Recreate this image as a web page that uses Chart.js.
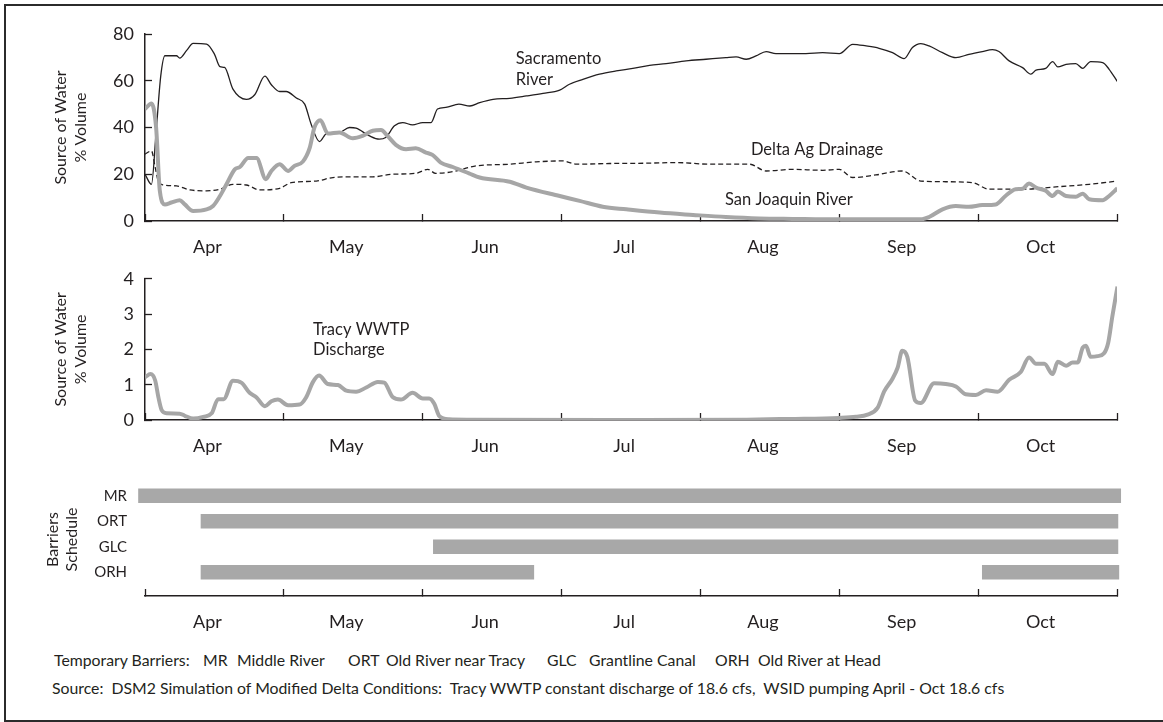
<!DOCTYPE html>
<html>
<head>
<meta charset="utf-8">
<script src="https://cdn.jsdelivr.net/npm/chart.js@4"></script>
<style>
  body{margin:0;background:#fff;font-family:Lato,"Open Sans",sans-serif;color:#231f20}
  #page{position:relative;width:1163px;height:722px;overflow:hidden}
  #frame{position:absolute;left:4px;top:4px;width:1170px;height:714px;border:2px solid #2b2b2b}
  canvas{position:absolute;left:0}
  .note{position:absolute;font-size:15.8px;white-space:nowrap;line-height:18px}
</style>
</head>
<body>
<div id="page">
  <div id="frame"></div>
  <canvas id="sources" width="1163" height="262" style="top:0"></canvas>
  <canvas id="wwtp" width="1163" height="210" style="top:250px"></canvas>
  <canvas id="barriers" width="1163" height="184" style="top:456px"></canvas>
  <div class="note" style="left:54px;top:651px">Temporary Barriers:</div>
  <div class="note" style="left:203px;top:651px">MR</div>
  <div class="note" style="left:237px;top:651px">Middle River</div>
  <div class="note" style="left:348px;top:651px">ORT</div>
  <div class="note" style="left:386px;top:651px">Old River near Tracy</div>
  <div class="note" style="left:547px;top:651px">GLC</div>
  <div class="note" style="left:589px;top:651px">Grantline Canal</div>
  <div class="note" style="left:715px;top:651px">ORH</div>
  <div class="note" style="left:758px;top:651px">Old River at Head</div>
  <div class="note" style="left:52px;top:679px">Source:&nbsp; DSM2 Simulation of Modified Delta Conditions:&nbsp; Tracy WWTP constant discharge of 18.6 cfs,&nbsp; WSID pumping April - Oct 18.6 cfs</div>
</div>
<script>
// x values are days from the start of the run, 30 days per axis division
var monthLabels = ['Apr','May','Jun','Jul','Aug','Sep','Oct']

var sacramentoRiver = [[0,20],[1.4,15.7],[2.4,38],[3.4,62],[4.3,70.7],[6.8,70.7],[7.5,69.7],[9,73],[10.4,76],[13.3,75.7],
  [15,71.4],[16.2,66],[17.2,65.7],[19,56.4],[21.9,52],[23.7,54],[25.9,62],[27.3,58.3],[29.1,55.4],[30.5,55.4],
  [32.7,52.6],[34.5,50],[35.9,41.4],[37.7,34],[39.2,37.4],[42,37.9],[44.2,40],[45.6,39.7],[48.5,36.4],[50.6,35],
  [52,35.7],[53.9,40.7],[55.7,42.1],[57.8,41.1],[60,42.1],[61.8,42.1],[63.2,47.9],[65,48.6],[67.8,50],[70.2,49.2],
  [72.3,50.6],[75.2,52],[78.8,52.5],[82.4,53.5],[86,54.6],[89.6,56],[91.7,58.5],[94.6,60.6],[98.2,62.8],[101.8,64.2],
  [105.4,65.3],[109,66.6],[112.6,67.3],[116.9,68.5],[121.2,69.2],[125.5,69.9],[127.7,70.2],[129.9,69.2],[132,70.6],[134.2,72.5],
  [136.3,71.6],[139.9,71.6],[142.8,71.6],[146.4,72],[150,71.6],[152.9,75.6],[155.8,74.9],[158.6,73.9],[161.5,72],[164,69.5],
  [165.8,74.2],[167.6,75.9],[169.4,74.9],[172.3,72],[175.2,69.9],[178,71.3],[180.9,72.5],[183.1,73.3],[184.5,72.5],[186.7,68.5],
  [189.6,65.6],[191.4,62.8],[192.5,64.5],[194.6,65.3],[196.1,68.2],[197.2,65.9],[199,67],[201.1,67.3],[202.6,65.3],[204.3,68.2],
  [206.9,67.8],[208.3,64.9],[210.1,59.6]]

var sanJoaquinRiver = [[0,47.9],[1.4,50.3],[2.4,40],[3.2,12.9],[4.3,7.1],[5.7,7.9],[7.5,8.9],[8.6,7.1],[10.4,4.3],[13.3,5],
  [14.7,6.4],[16.2,10.7],[17.6,15.7],[19.4,22.1],[20.5,23.1],[22.3,26.9],[24.1,26.9],[26.1,17.9],[27.3,21.4],[29.1,24.3],
  [30.9,21.4],[32.3,23.6],[34.1,25.4],[35.6,31.4],[36.6,40],[37.9,43.1],[39.5,37.4],[42,37.9],[44.9,35.4],[47,36.4],
  [49.2,38.6],[51,38.9],[52.4,36.4],[54.2,32.6],[56.4,30.7],[58.5,31.1],[60.7,29.3],[62.1,28.3],[63.9,25],[66.5,23.1],
  [70,20.4],[72.3,18.6],[78.8,16.8],[82.4,14.3],[89.6,10.7],[93.9,8.6],[98.9,6.1],[104,5],[111.2,3.6],[118.4,2.6],
  [125.5,1.7],[132.7,1.1],[139.9,0.9],[150,0.7],[160,0.7],[167.9,0.8],[169.4,1.7],[172.3,5],[175.2,6.4],[178,6.1],
  [180.9,6.8],[183.8,7.1],[185.9,10.7],[188.1,13.6],[189.6,13.8],[191,16],[192.5,14.3],[194.6,12.9],[196.1,10.7],[197.2,12.6],
  [199,10.7],[201.1,10.4],[202.6,11.7],[204,9.3],[206.9,8.9],[208.3,10.7],[210.1,14]]

var deltaAgDrainage = [[0,28.6],[1.4,30],[2.2,22.9],[2.9,16.9],[4,15.4],[6.8,15],[9.7,13.3],[13.3,12.9],[16.2,13.6],[19,15.7],
  [21.9,15.4],[24.8,13.3],[29.1,14],[31.6,16.4],[37,17.1],[40.6,18.6],[44.9,18.9],[49.2,18.9],[53.5,20],[58.5,20.4],
  [61.1,22.1],[62.8,20.4],[66.5,21.1],[70,22.9],[71.6,23.6],[78.8,24.3],[84.5,25.3],[90.3,25.7],[93.2,24.3],[100.4,24.6],
  [107.6,24.7],[114.8,25],[122,24.3],[130.6,24.3],[134.2,21.4],[139.9,22.1],[146.4,21.7],[150,22.1],[152.9,18.6],[157.9,19.7],
  [163.6,21.4],[167.6,17.1],[173,16.8],[178.8,16.4],[182.4,13.6],[189.6,13.6],[196.8,14.6],[204,15.7],[210.1,17.1]]

var tracyWwtp = [[0,1.21],[1.2,1.3],[2.2,1.12],[2.9,0.64],[3.6,0.28],[4.7,0.19],[7.5,0.18],[8.6,0.12],[10.4,0.04],[12.6,0.09],
  [14.4,0.19],[15.8,0.59],[17,0.59],[19,1.11],[20.8,1.06],[22.6,0.77],[24.1,0.64],[25.9,0.39],[27.3,0.53],[28.7,0.58],
  [30.9,0.42],[33.4,0.44],[34.8,0.64],[36.3,1.08],[37.6,1.26],[39.5,1.02],[41.7,0.99],[43.5,0.83],[45.6,0.8],[47.8,0.92],
  [50.3,1.08],[51.7,1.06],[53.5,0.65],[55.3,0.58],[57.8,0.77],[60,0.61],[61.4,0.61],[62.5,0.46],[63.6,0.11],[65.7,0.02],
  [70,0.01],[100,0],[130,0.01],[139.2,0.03],[150,0.06],[153.6,0.09],[156.1,0.15],[158.3,0.35],[159.7,0.81],[161.5,1.17],
  [162.6,1.48],[163.6,1.96],[164.7,1.79],[166.4,0.55],[167.6,0.48],[170.5,1.04],[173,1.02],[175.2,0.95],[177.3,0.73],[179.5,0.71],
  [181.7,0.84],[184.2,0.8],[186.7,1.14],[189.2,1.36],[191,1.77],[192.5,1.59],[194.3,1.59],[196.1,1.3],[197.2,1.65],[199,1.54],
  [200.4,1.63],[201.5,1.63],[202.6,2.05],[203.3,2.1],[204.3,1.79],[205.8,1.81],[207.2,1.89],[208.1,2.19],[209,2.94],[210.1,3.78]]

var barrierNames = ['MR','ORT','GLC','ORH']
// [barrier index, first day, last day]
var barrierPeriods = [[0,-1.4,210.8],[1,12.1,210.2],[2,62.3,210.2],[3,12.1,84],[3,180.9,210.4]]

var ink = '#231f20'
var fontFamily = 'Lato, "Open Sans", sans-serif'

var toPoints = function(list){
  return list.map(function(p){ return {x: p[0], y: p[1]} })
}

var monthTicks = function(scale){
  var ticks = []
  for(var i = 0; i <= monthLabels.length; i++){
    ticks.push({value: i * 30})
    if(i < monthLabels.length) ticks.push({value: i * 30 + 13.5})
  }
  scale.ticks = ticks
}

var monthAxis = function(){
  return {
    type: 'linear',
    min: 0,
    max: 210,
    afterBuildTicks: monthTicks,
    grid: {
      drawOnChartArea: false,
      tickLength: -7,
      tickWidth: 1.3,
      tickColor: function(ctx){
        return ctx.tick && ctx.tick.value % 30 === 0 ? ink : 'rgba(0,0,0,0)'
      }
    },
    border: {color: ink, width: 1.5},
    ticks: {
      autoSkip: false,
      maxRotation: 0,
      padding: 22,
      color: ink,
      font: {family: fontFamily, size: 18},
      callback: function(value){
        return value % 30 === 0 ? '' : monthLabels[Math.floor(value / 30)]
      }
    }
  }
}

var valueAxis = function(max,step){
  return {
    min: 0,
    max: max,
    afterFit: function(scale){ scale.width = 145 },
    grid: {drawOnChartArea: false, tickLength: -7, tickWidth: 1.3, tickColor: ink},
    border: {color: ink, width: 1.5},
    ticks: {stepSize: step, padding: 18, color: ink, font: {family: fontFamily, size: 18}},
    title: {
      display: true,
      text: ['Source of Water','% Volume'],
      color: ink,
      font: {family: fontFamily, size: 16, lineHeight: 1.3},
      padding: {top: 50, bottom: 0}
    }
  }
}

// text labels placed next to the lines, in data units
var makeLineLabels = function(items){
  return {
    id: 'lineLabels',
    afterDatasetsDraw: function(chart){
      var ctx = chart.ctx
      ctx.save()
      ctx.font = '16.5px ' + fontFamily
      ctx.fillStyle = ink
      ctx.textBaseline = 'middle'
      items.forEach(function(item){
        var x = chart.scales.x.getPixelForValue(item.x)
        var y = chart.scales.y.getPixelForValue(item.y)
        item.lines.forEach(function(line,i){
          ctx.fillText(line, x, y + i * 20.5)
        })
      })
      ctx.restore()
    }
  }
}

var baseOptions = function(padTop,axisHeight){
  var xAxis = monthAxis()
  xAxis.afterFit = function(scale){ scale.height = axisHeight }
  return {
    responsive: false,
    animation: false,
    layout: {padding: {top: padTop, right: 46, left: 0, bottom: 0}},
    plugins: {legend: {display: false}, tooltip: {enabled: false}},
    elements: {point: {radius: 0}},
    scales: {x: xAxis}
  }
}

var sourcesOptions = baseOptions(34,41)
sourcesOptions.scales.y = valueAxis(80,20)
new Chart(document.getElementById('sources'),{
  type: 'line',
  data: {
    datasets: [
      {
        label: 'San Joaquin River',
        data: toPoints(sanJoaquinRiver),
        borderColor: '#a6a6a6',
        borderWidth: 4,
        cubicInterpolationMode: 'monotone'
      },
      {
        label: 'Delta Ag Drainage',
        data: toPoints(deltaAgDrainage),
        borderColor: ink,
        borderWidth: 1.3,
        borderDash: [5,3],
        cubicInterpolationMode: 'monotone'
      },
      {
        label: 'Sacramento River',
        data: toPoints(sacramentoRiver),
        borderColor: ink,
        borderWidth: 1.3,
        cubicInterpolationMode: 'monotone'
      }
    ]
  },
  options: sourcesOptions,
  plugins: [makeLineLabels([
    {x: 80.1, y: 69.4, lines: ['Sacramento','River']},
    {x: 130.9, y: 30.5, lines: ['Delta Ag Drainage']},
    {x: 125.3, y: 9.1, lines: ['San Joaquin River']}
  ])]
})

var wwtpOptions = baseOptions(19,40)
wwtpOptions.scales.y = valueAxis(4,1)
new Chart(document.getElementById('wwtp'),{
  type: 'line',
  data: {
    datasets: [
      {
        label: 'Tracy WWTP Discharge',
        data: toPoints(tracyWwtp),
        borderColor: '#a6a6a6',
        borderWidth: 4,
        cubicInterpolationMode: 'monotone'
      }
    ]
  },
  options: wwtpOptions,
  plugins: [makeLineLabels([
    {x: 36.3, y: 2.56, lines: ['Tracy WWTP','Discharge']}
  ])]
})

var barrierOptions = baseOptions(11.6,44)
barrierOptions.indexAxis = 'y'
barrierOptions.scales.y = {
  type: 'linear',
  reverse: true,
  offset: false,
  min: -0.5,
  max: 3.93,
  afterFit: function(scale){ scale.width = 145 },
  afterBuildTicks: function(scale){
    scale.ticks = barrierNames.map(function(n,i){ return {value: i} })
  },
  grid: {display: false, drawTicks: false, offset: false},
  border: {display: false},
  ticks: {
    padding: 18,
    color: ink,
    font: {family: fontFamily, size: 15},
    callback: function(value){ return barrierNames[value] }
  },
  title: {
    display: true,
    text: ['Barriers','Schedule'],
    color: ink,
    font: {family: fontFamily, size: 16, lineHeight: 1.15},
    padding: {top: 44, bottom: 0}
  }
}
new Chart(document.getElementById('barriers'),{
  type: 'bar',
  data: {
    datasets: [
      {
        label: 'Barriers',
        data: barrierPeriods.map(function(b){ return {x: [b[1],b[2]], y: b[0]} }),
        backgroundColor: '#a8a8a8',
        borderWidth: 0,
        barThickness: 14,
        clip: false
      }
    ]
  },
  options: barrierOptions
})
</script>
</body>
</html>
